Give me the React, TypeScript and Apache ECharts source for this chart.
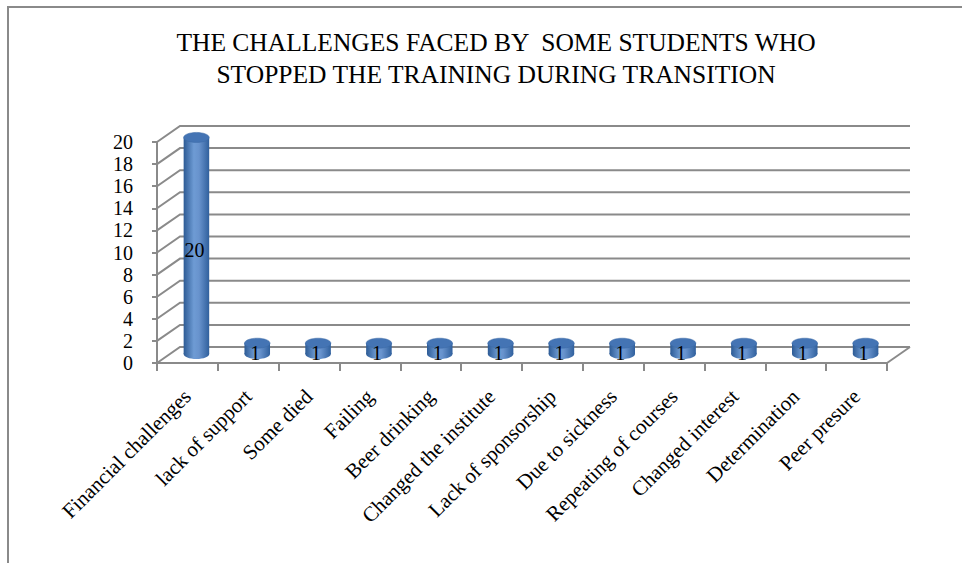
import React, { useEffect, useRef } from "react";
import * as echarts from "echarts";

const titleLines = [
  "THE CHALLENGES FACED BY  SOME STUDENTS WHO",
  "STOPPED THE TRAINING DURING TRANSITION",
];
const categories = [
  "Financial challenges",
  "lack of support",
  "Some died",
  "Failing",
  "Beer drinking",
  "Changed the institute",
  "Lack of sponsorship",
  "Due to sickness",
  "Repeating of courses",
  "Changed interest",
  "Determination",
  "Peer presure",
];
const values = [20, 1, 1, 1, 1, 1, 1, 1, 1, 1, 1, 1];
const yTicks = [0, 2, 4, 6, 8, 10, 12, 14, 16, 18, 20];

const FONT = "Liberation Serif";
const GRID = "#8a8a8a";
const DX = 23;
const DY = 16;

export default function App() {
  const ref = useRef<HTMLDivElement>(null);
  useEffect(() => {
    const chart = echarts.init(ref.current!, null, { renderer: "svg" });
    const bodyGrad = () =>
      new echarts.graphic.LinearGradient(0, 0, 1, 0, [
        { offset: 0, color: "#2d5b95" },
        { offset: 0.4, color: "#6e9bd4" },
        { offset: 0.6, color: "#6893cd" },
        { offset: 1, color: "#30609d" },
      ]);
    const option: any = {
      animation: false,
      backgroundColor: "#ffffff",
      textStyle: { fontFamily: FONT },
      grid: { left: 157, top: 142, width: 730, height: 221 },
      xAxis: {
        type: "category",
        data: categories,
        axisLine: { show: true, lineStyle: { color: GRID, width: 2 } },
        axisTick: { show: true, length: 8, lineStyle: { color: GRID, width: 2 } },
        axisLabel: {
          interval: 0,
          rotate: 45,
          margin: 30,
          fontFamily: FONT,
          fontSize: 21,
          color: "#000",
        },
        splitLine: { show: false },
      },
      yAxis: {
        type: "value",
        min: 0,
        max: 20,
        interval: 2,
        axisLine: { show: true, lineStyle: { color: GRID, width: 2 } },
        axisTick: { show: true, length: 5, lineStyle: { color: GRID, width: 2 } },
        axisLabel: { margin: 24, fontFamily: FONT, fontSize: 20, color: "#000" },
        splitLine: { show: false },
      },
      graphic: [
        {
          type: "rect",
          silent: true,
          shape: { x: 8, y: 7, width: 1000, height: 700 },
          style: { fill: "none", stroke: "#8a8a8a", lineWidth: 2 },
        },
        ...titleLines.map((t, k) => ({
          type: "text",
          silent: true,
          x: 496,
          y: 42 + k * 32,
          style: {
            text: t,
            align: "center",
            verticalAlign: "middle",
            fontFamily: FONT,
            fontSize: 25.5,
            fill: "#000",
          },
        })),
      ],
      series: [
        {
          type: "custom",
          silent: true,
          z: 1,
          data: yTicks.map((v) => [0, v]),
          renderItem: (params: any, api: any) => {
            const v = api.value(1);
            const y = api.coord([0, v])[1];
            const cs = params.coordSys;
            const x0 = cs.x;
            const x1 = cs.x + cs.width;
            const children: any[] = [
              {
                type: "polyline",
                shape: {
                  points: [
                    [x0, y],
                    [x0 + DX, y - DY],
                    [x1 + DX, y - DY],
                  ],
                },
                style: { fill: "none", stroke: GRID, lineWidth: 2 },
              },
            ];
            if (v === 0) {
              children.push({
                type: "line",
                shape: { x1: x1, y1: y, x2: x1 + DX, y2: y - DY },
                style: { stroke: GRID, lineWidth: 2 },
              });
            }
            return { type: "group", children };
          },
        },
        {
          type: "custom",
          silent: true,
          z: 3,
          data: values.map((v, i) => [i, v]),
          renderItem: (params: any, api: any) => {
            const i = api.value(0);
            const v = api.value(1);
            const p = api.coord([i, v]);
            const y0 = api.coord([i, 0])[1];
            const band = api.size([1, 0])[0];
            const w = band * 0.42;
            const rx = w / 2;
            const ry = 5;
            const bx = p[0] + 9;
            const yb = y0 - 9;
            const yt = yb - (y0 - p[1]) * 0.98;
            return {
              type: "group",
              children: [
                {
                  type: "ellipse",
                  shape: { cx: bx, cy: yb, rx, ry },
                  style: { fill: bodyGrad() },
                },
                {
                  type: "rect",
                  shape: { x: bx - rx, y: yt, width: w, height: yb - yt },
                  style: { fill: bodyGrad() },
                },
                {
                  type: "ellipse",
                  shape: { cx: bx, cy: yt, rx, ry },
                  style: { fill: "#4474b4", stroke: "#3a68a5", lineWidth: 0.5 },
                },
                {
                  type: "text",
                  z2: 10,
                  style: {
                    text: String(v),
                    x: bx - 2,
                    y: (yt + yb) / 2 + 4,
                    align: "center",
                    verticalAlign: "middle",
                    fontFamily: FONT,
                    fontSize: 20,
                    fill: "#000",
                  },
                },
              ],
            };
          },
        },
      ],
    };
    chart.setOption(option);
    return () => chart.dispose();
  }, []);
  return (
    <div
      ref={ref}
      style={{ position: "absolute", left: 0, top: 0, width: 962, height: 563 }}
    />
  );
}
